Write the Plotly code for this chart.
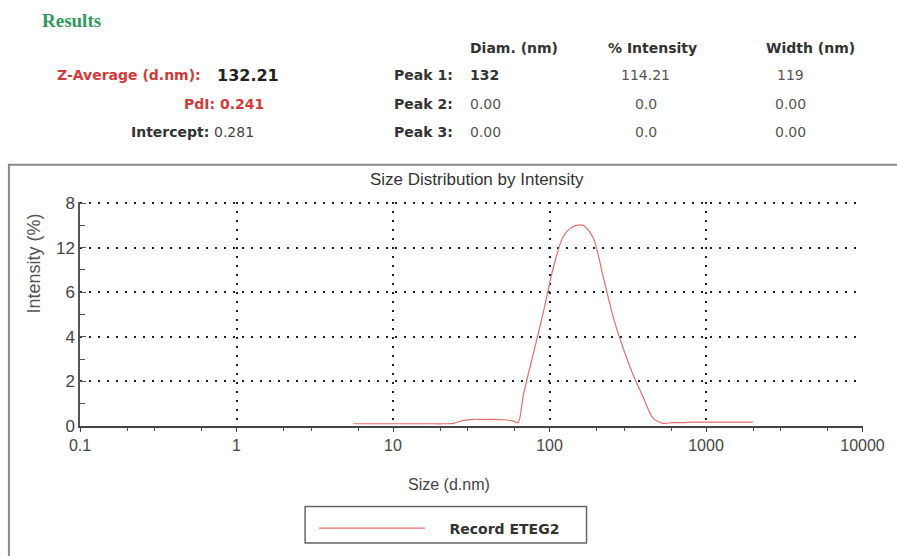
import plotly.graph_objects as go

# ---- data ----
size_nm = [5.6, 6.5, 7.5, 8.7, 10.1, 11.7, 13.5, 15.7, 18.2, 21.0, 24.4, 28.2, 32.7,
           37.8, 43.8, 50.7, 58.8, 63.0, 68.1, 78.8, 91.3, 105.7, 122.4, 141.8, 164.2,
           190.1, 220.2, 255.0, 295.3, 342.0, 396.1, 458.7, 531.2, 615.1, 712.4, 825.0,
           955.4, 1106, 1281, 1484, 1718, 1990]
intensity = [0.1, 0.1, 0.1, 0.1, 0.1, 0.1, 0.1, 0.1, 0.1, 0.1, 0.12, 0.25, 0.3,
             0.3, 0.3, 0.28, 0.22, 0.15, 1.4, 3.25, 5.1, 7.1, 8.5, 8.95, 9.0,
             8.45, 6.7, 4.9, 3.5, 2.3, 1.3, 0.35, 0.12, 0.15, 0.15, 0.17,
             0.17, 0.17, 0.17, 0.17, 0.17, 0.17]
series_name = "Record ETEG2"

x_tickvals = [0.1, 1, 10, 100, 1000, 10000]
x_ticktext = ["0.1", "1", "10", "100", "1000", "10000"]
y_tickvals = [0, 2, 4, 6, 8, 10]
y_ticktext = ["0", "2", "4", "6", "12", "8"]

header_cols = ["Diam. (nm)", "% Intensity", "Width (nm)"]
peak_labels = ["Peak 1:", "Peak 2:", "Peak 3:"]
peak_diam = ["132", "0.00", "0.00"]
peak_int = ["114.21", "0.0", "0.0"]
peak_width = ["119", "0.00", "0.00"]
z_average = "132.21"
pdi = "0.241"
intercept = "0.281"

# ---- layout helpers (pixel -> paper) ----
W, H = 897, 556
L, R, T, B = 80, 873, 202, 430


def px(x):
    return (x - L) / (R - L)


def py(y):
    return (B - y) / (B - T)


FONT = "DejaVu Sans"
fig = go.Figure()
fig.add_trace(go.Scatter(
    x=size_nm, y=intensity, mode="lines",
    name="<b>\u00a0\u00a0\u00a0\u00a0" + series_name + "</b>",
    line=dict(color="#e07070", width=1.2, shape="spline", smoothing=0.8),
))

ann = []


def text(x, y, s, anchor="left", size=14, color="#333333", bold=False, family=FONT):
    ann.append(dict(x=px(x), y=py(y), xref="paper", yref="paper", text=(f"<b>{s}</b>" if bold else s),
                    showarrow=False, xanchor=anchor, yanchor="middle",
                    font=dict(family=family, size=size, color=color)))


text(39, 17, "Results", size=19, color="#2e9a5e", bold=True, family="Liberation Serif")
text(205, 73, "Z-Average (d.nm):", anchor="right", size=14, color="#d23a3a", bold=True)
text(217, 73, z_average, size=16, color="#222222", bold=True)
text(268, 102, f"PdI: {pdi}", anchor="right", size=14, color="#d23a3a", bold=True)
text(213, 131, "Intercept:", anchor="right", size=14, color="#333333", bold=True)
text(214, 131, intercept, size=14, color="#444444")

col_x = [473, 613, 773]
for cx, h in zip(col_x, header_cols):
    text(cx, 45, h, size=14, bold=True)
rows_y = [73, 102, 131]
for i, ry in enumerate(rows_y):
    text(396, ry, peak_labels[i], size=14, bold=True)
    text(473, ry, peak_diam[i], size=14, bold=(i == 0), color="#333333" if i == 0 else "#555555")
    text(653, ry, peak_int[i], anchor="center", size=14, color="#555555")
    text(800, ry, peak_width[i], anchor="center", size=14, color="#555555")

ann.append(dict(x=px(482), y=py(179), xref="paper", yref="paper", text="Size Distribution by Intensity",
                showarrow=False, xanchor="center", yanchor="middle",
                font=dict(family="Liberation Sans", size=17, color="#333333")))
ann.append(dict(x=px(454), y=py(490), xref="paper", yref="paper", text="Size (d.nm)",
                showarrow=False, xanchor="center", yanchor="middle",
                font=dict(family="Liberation Sans", size=16, color="#444444")))
ann.append(dict(x=px(33), y=py(265), xref="paper", yref="paper", text="Intensity (%)", textangle=-90,
                showarrow=False, xanchor="center", yanchor="middle",
                font=dict(family="Liberation Sans", size=18, color="#555555")))

fig.update_layout(
    width=W, height=H,
    margin=dict(l=L, r=W - R, t=T, b=H - B),
    paper_bgcolor="white", plot_bgcolor="white",
    annotations=ann,
    shapes=[dict(type="rect", xref="paper", yref="paper",
                 x0=px(8), x1=px(915), y0=py(565), y1=py(164),
                 line=dict(color="#8a8a8a", width=2), layer="below"),
            dict(type="rect", xref="paper", yref="paper",
                 x0=px(308), x1=px(593), y0=py(549), y1=py(512),
                 line=dict(color="#666666", width=1.5), layer="below")],
    showlegend=True,
    legend=dict(x=px(317), y=py(518), xanchor="left", yanchor="top",
                borderwidth=0, bgcolor="rgba(0,0,0,0)",
                itemwidth=106,
                font=dict(family=FONT, size=14, color="#333333")),
    font=dict(family="Liberation Sans", size=13, color="#444444"),
)

fig.update_xaxes(
    type="log", range=[-1, 4.003],
    tickvals=x_tickvals, ticktext=x_ticktext,
    showline=True, linecolor="#444444", linewidth=2,
    ticks="outside", ticklen=4, tickcolor="#444444",
    showgrid=True, gridcolor="#222222", gridwidth=1.5, griddash="2px,7px",
    zeroline=False,
    minor=dict(tickvals=[0.2, 0.3, 0.6, 2, 3, 6, 20, 30, 60, 200, 300, 600, 2000, 3000, 6000],
               ticks="outside", ticklen=3, tickcolor="#555555", showgrid=False),
    tickfont=dict(family="Liberation Sans", size=16, color="#444444"),
)
fig.update_yaxes(
    range=[0, 10.05],
    tickvals=y_tickvals, ticktext=y_ticktext,
    showline=True, linecolor="#555555", linewidth=1.5,
    ticks="inside", ticklen=6, tickcolor="#555555",
    showgrid=True, gridcolor="#222222", gridwidth=1.5, griddash="2px,7px",
    zeroline=False,
    minor=dict(tickvals=[1, 3, 5, 7, 9], ticks="inside", ticklen=5, tickcolor="#555555", showgrid=False),
    tickfont=dict(family="Liberation Sans", size=17, color="#444444"),
)

fig.write_html("out.html")
